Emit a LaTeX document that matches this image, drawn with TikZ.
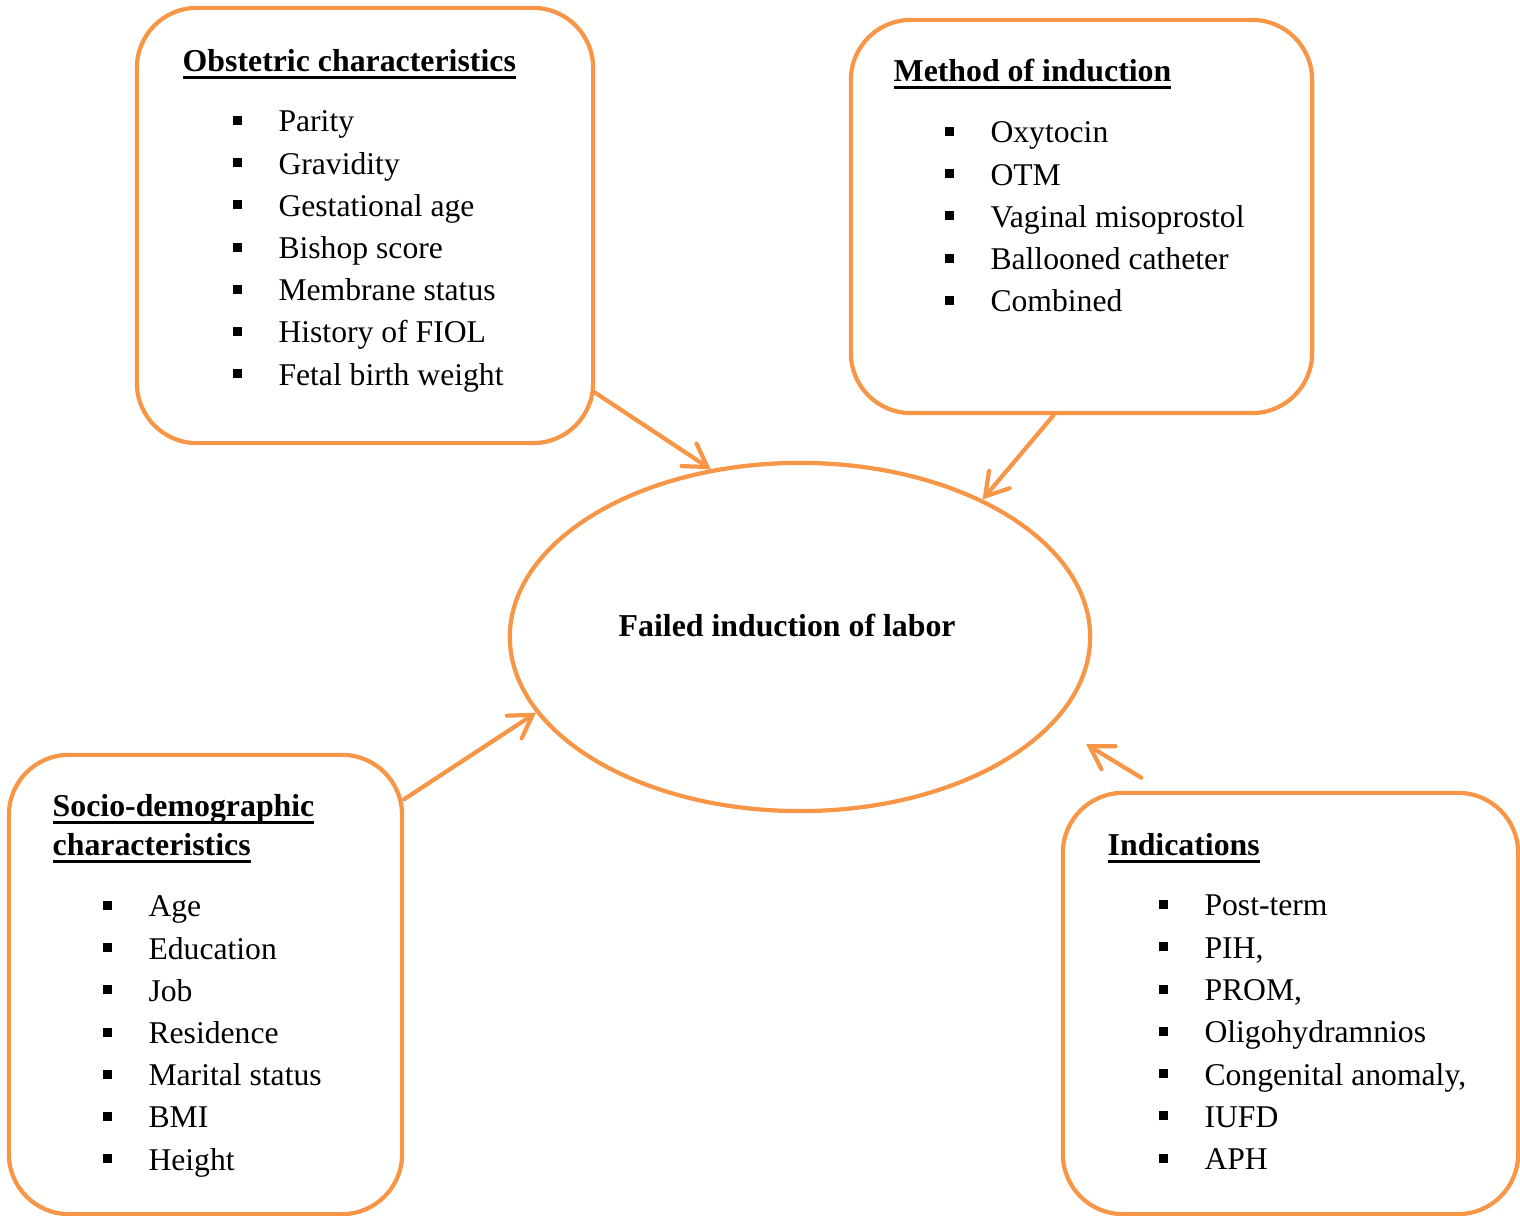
\documentclass[tikz,border=0pt]{standalone}
\usepackage{fontspec}
\setmainfont{Liberation Serif}
\usepackage{tikz}
\usetikzlibrary{arrows.meta}
\usetikzlibrary{shapes.geometric}
\definecolor{naranja}{RGB}{247,150,70}
\newcommand{\cuadro}{\rule[0.07cm]{0.09cm}{0.09cm}}
\newcommand{\vineta}[1]{\makebox[0.458cm][l]{\cuadro}#1}
\newcommand{\subrayado}[1]{\sbox0{#1}\rlap{\rule[-0.07cm]{\wd0}{0.03cm}}\usebox0}

\begin{document}
\begin{tikzpicture}[
        x=0.01cm, y=-0.01cm,
        caja/.style={draw=naranja, line width=1.2pt, rounded corners=0.6cm},
        titulo/.style={anchor=base west, inner sep=0, font=\fontsize{9.05}{10}\selectfont\bfseries},
        item/.style={anchor=base west, inner sep=0, font=\fontsize{9.0}{10}\selectfont},
        flecha/.style={draw=naranja, line width=1.2pt, line cap=round,
            -{Straight Barb[length=0.22cm, width=0.27cm, line cap=round]}}
    ]
        \useasboundingbox (0,0) rectangle (1520,1216);

        % Caja de factores obstetricos
        \node[caja, minimum width=4.56cm, minimum height=4.35cm] (obst) at (365,225.5) {};
        \node[titulo] (tobst) at (182,72) {\subrayado{Obstetric characteristics}};
        \foreach \texto [count=\i from 0] in {Parity, Gravidity, Gestational age, Bishop score,
            Membrane status, History of FIOL, Fetal birth weight}
            \node[item] (obst-\i) at (232,{132+42.2*\i}) {\vineta{\texto}};

        % Caja del metodo
        \node[caja, minimum width=4.61cm, minimum height=3.93cm] (meth) at (1081.5,216.5) {};
        \node[titulo] (tmeth) at (893,82) {\subrayado{Method of induction}};
        \foreach \texto [count=\i from 0] in {Oxytocin, OTM, Vaginal misoprostol,
            Ballooned catheter, Combined}
            \node[item] (meth-\i) at (944,{143+42.2*\i}) {\vineta{\texto}};

        % Caja sociodemografica
        \node[caja, minimum width=3.93cm, minimum height=4.59cm] (soc) at (205.5,984.5) {};
        \node[titulo] (tsoc) at (52,817) {\subrayado{Socio-demographic}};
        \node[titulo] (tsoc2) at (52,856) {\subrayado{characteristics}};
        \foreach \texto [count=\i from 0] in {Age, Education, Job, Residence,
            Marital status, BMI, Height}
            \node[item] (soc-\i) at (102,{917+42.2*\i}) {\vineta{\texto}};

        % Caja de indicaciones
        \node[caja, minimum width=4.55cm, minimum height=4.21cm] (ind) at (1290.5,1003.5) {};
        \node[titulo] (tind) at (1107,856) {\subrayado{Indications}};
        \foreach \texto [count=\i from 0] in {Post-term, {PIH,}, {PROM,}, Oligohydramnios,
            {Congenital anomaly,}, IUFD, APH}
            \node[item] (ind-\i) at (1158,{916+42.3*\i}) {\vineta{\texto}};

        % Resultado
        \node[ellipse, draw=naranja, line width=1.2pt, minimum width=5.8cm,
            minimum height=3.48cm, inner sep=0] (fil) at (800,637) {};
        \node[titulo] (tfil) at (618,637) {Failed induction of labor};

        % Flechas
        \draw[flecha] (obst.-36) -- (fil.118);
        \draw[flecha] (meth.262) -- (fil.37);
        \draw[flecha] (soc.43) -- (fil.196);
        \draw[flecha, shorten <=0.25cm, shorten >=0.38cm] (ind.121.5) -- (fil.-19.5);
    \end{tikzpicture}
\end{document}
